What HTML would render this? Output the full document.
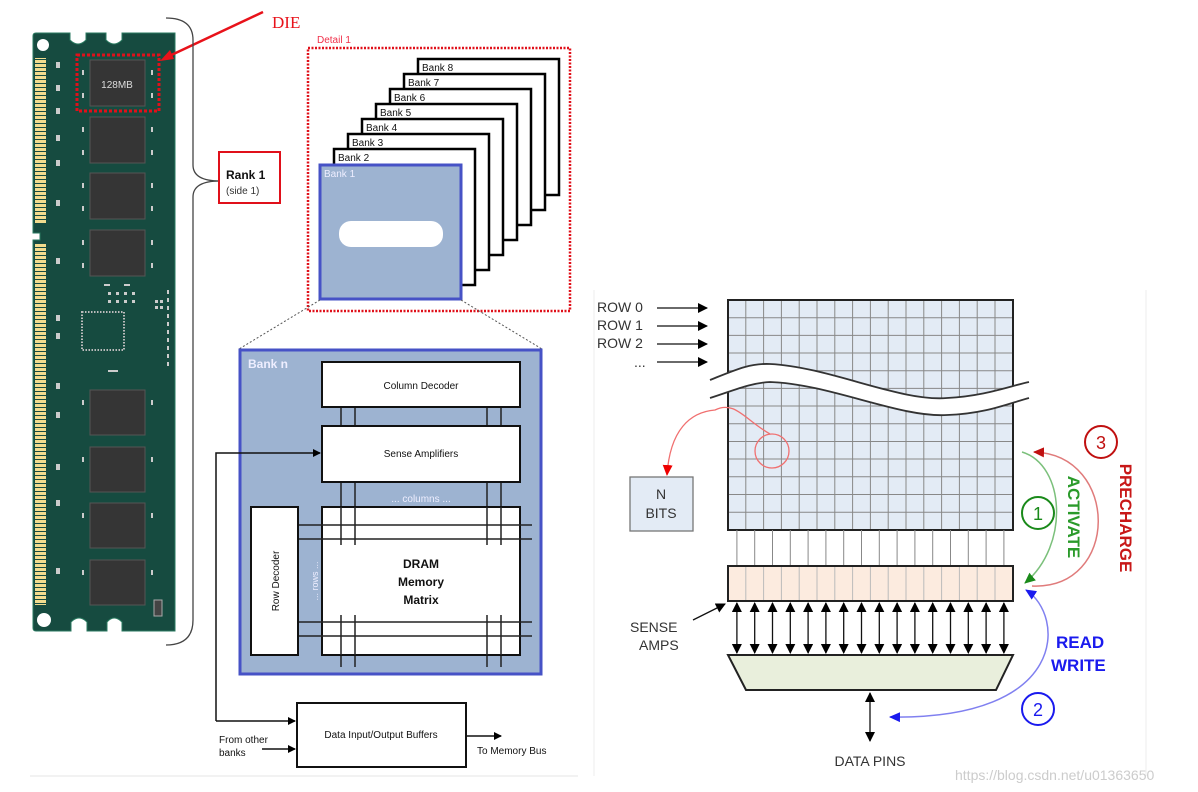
<!DOCTYPE html>
<html><head><meta charset="utf-8"><style>
html,body{margin:0;padding:0;background:#fff;}
svg{display:block;font-family:"Liberation Sans",sans-serif;}
</style></head><body>
<svg width="1198" height="792" viewBox="0 0 1198 792" xmlns="http://www.w3.org/2000/svg">
<defs>
<marker id="ab" markerWidth="8" markerHeight="8" refX="7" refY="4" orient="auto" markerUnits="userSpaceOnUse"><path d="M0,0 L8,4 L0,8 z" fill="#000"/></marker>
<marker id="ab2" markerWidth="10" markerHeight="10" refX="9" refY="5" orient="auto-start-reverse" markerUnits="userSpaceOnUse"><path d="M0,0 L10,5 L0,10 z" fill="#000"/></marker>
<marker id="ar" markerWidth="12" markerHeight="12" refX="10" refY="6" orient="auto" markerUnits="userSpaceOnUse"><path d="M0,1 L11,6 L0,11 z" fill="#e00"/></marker>
<marker id="ag" markerWidth="12" markerHeight="12" refX="10" refY="6" orient="auto" markerUnits="userSpaceOnUse"><path d="M0,1 L11,6 L0,11 z" fill="#1a8a1a"/></marker>
<marker id="ard" markerWidth="12" markerHeight="12" refX="10" refY="6" orient="auto" markerUnits="userSpaceOnUse"><path d="M0,1 L11,6 L0,11 z" fill="#c01010"/></marker>
<marker id="abl" markerWidth="12" markerHeight="12" refX="10" refY="6" orient="auto-start-reverse" markerUnits="userSpaceOnUse"><path d="M0,1 L11,6 L0,11 z" fill="#1a1aee"/></marker>
<pattern id="gp" width="4" height="4" patternUnits="userSpaceOnUse"><rect width="4" height="3" fill="#f2dc8e"/></pattern>
</defs>

<line x1="30" y1="776" x2="578" y2="776" stroke="#e6e6e6"/>
<line x1="594" y1="290" x2="594" y2="776" stroke="#eee"/>
<line x1="1146" y1="290" x2="1146" y2="776" stroke="#eee"/>

<!-- DIMM module -->
<path d="M36,33 H70 V40 Q78,48 86,40 V33 H106 V40 Q114,48 122,40 V33 H175 V631 H122 V622 Q114,614 107,622 V631 H87 V622 Q79,614 71,622 V631 H36 Q33,631 33,628 V240 H40 V233 H33 V36 Q33,33 36,33 Z" fill="#164b40" stroke="#2a7a60"/>
<circle cx="43" cy="45" r="6" fill="#fff"/>
<circle cx="44" cy="620" r="7" fill="#fff"/>
<rect x="35" y="58" width="11" height="166" fill="url(#gp)"/>
<rect x="35" y="243" width="11" height="362" fill="url(#gp)"/>
<g fill="#353535" stroke="#555">
<rect x="90" y="60" width="55" height="46"/>
<rect x="90" y="117" width="55" height="46"/>
<rect x="90" y="173" width="55" height="46"/>
<rect x="90" y="230" width="55" height="46"/>
<rect x="90" y="390" width="55" height="45"/>
<rect x="90" y="447" width="55" height="45"/>
<rect x="90" y="503" width="55" height="45"/>
<rect x="90" y="560" width="55" height="45"/>
</g>
<rect x="82" y="312" width="42" height="38" fill="none" stroke="#bbb" stroke-width="2" stroke-dasharray="1.5,1.5"/>
<rect x="154" y="600" width="8" height="16" fill="#444" stroke="#aaa"/>
<g fill="#ccc">
<rect x="56" y="62" width="4" height="6"/><rect x="56" y="85" width="4" height="6"/><rect x="56" y="108" width="4" height="6"/><rect x="56" y="135" width="4" height="6"/><rect x="56" y="160" width="4" height="6"/><rect x="56" y="200" width="4" height="6"/><rect x="56" y="258" width="4" height="6"/><rect x="56" y="315" width="4" height="6"/><rect x="56" y="333" width="4" height="6"/><rect x="56" y="383" width="4" height="6"/><rect x="56" y="412" width="4" height="6"/><rect x="56" y="464" width="4" height="6"/><rect x="56" y="500" width="4" height="6"/><rect x="56" y="568" width="4" height="6"/>
<rect x="82" y="70" width="2" height="5"/><rect x="151" y="70" width="2" height="5"/><rect x="82" y="93" width="2" height="5"/><rect x="151" y="93" width="2" height="5"/>
<rect x="82" y="127" width="2" height="5"/><rect x="151" y="127" width="2" height="5"/><rect x="82" y="150" width="2" height="5"/><rect x="151" y="150" width="2" height="5"/>
<rect x="82" y="183" width="2" height="5"/><rect x="151" y="183" width="2" height="5"/><rect x="82" y="206" width="2" height="5"/><rect x="151" y="206" width="2" height="5"/>
<rect x="82" y="240" width="2" height="5"/><rect x="151" y="240" width="2" height="5"/><rect x="82" y="263" width="2" height="5"/><rect x="151" y="263" width="2" height="5"/>
<rect x="82" y="400" width="2" height="5"/><rect x="151" y="400" width="2" height="5"/><rect x="82" y="457" width="2" height="5"/><rect x="151" y="457" width="2" height="5"/>
<rect x="82" y="513" width="2" height="5"/><rect x="151" y="513" width="2" height="5"/><rect x="82" y="570" width="2" height="5"/><rect x="151" y="570" width="2" height="5"/>
<rect x="104" y="284" width="6" height="2"/><rect x="124" y="284" width="6" height="2"/><rect x="108" y="292" width="3" height="3"/><rect x="116" y="292" width="3" height="3"/><rect x="124" y="292" width="3" height="3"/><rect x="132" y="292" width="3" height="3"/><rect x="108" y="300" width="3" height="3"/><rect x="116" y="300" width="3" height="3"/><rect x="124" y="300" width="3" height="3"/><rect x="132" y="300" width="3" height="3"/>
<rect x="155" y="300" width="3" height="3"/><rect x="160" y="300" width="3" height="3"/><rect x="155" y="306" width="3" height="3"/><rect x="160" y="306" width="3" height="3"/><rect x="167" y="290" width="2" height="4"/><rect x="167" y="298" width="2" height="4"/><rect x="167" y="306" width="2" height="4"/><rect x="167" y="314" width="2" height="4"/><rect x="167" y="322" width="2" height="4"/><rect x="167" y="330" width="2" height="4"/><rect x="167" y="338" width="2" height="4"/><rect x="167" y="346" width="2" height="4"/><rect x="167" y="354" width="2" height="4"/><rect x="167" y="362" width="2" height="4"/>
<rect x="108" y="370" width="10" height="2"/>
</g>
<rect x="77" y="55" width="82" height="56" fill="none" stroke="#e0101a" stroke-width="3" stroke-dasharray="3,2"/>
<text x="117" y="88" font-size="10" fill="#ddd" text-anchor="middle">128MB</text>

<line x1="263" y1="12" x2="165" y2="58" stroke="#e8121a" stroke-width="2.5"/>
<path d="M160,61 L170,50 L174,59 Z" fill="#e8121a"/>
<text x="272" y="28" font-family="Liberation Serif, serif" font-size="17" fill="#e8121a">DIE</text>

<path d="M166,18 Q193,18 193,40 V165 Q193,181 220,181 M220,181 Q193,181 193,197 V620 Q193,645 166,645" fill="none" stroke="#444" stroke-width="1.3"/>
<rect x="219" y="152" width="61" height="51" fill="#fff" stroke="#e0101a" stroke-width="2"/>
<text x="226" y="179" font-size="12" font-weight="bold" fill="#111">Rank 1</text>
<text x="226" y="194" font-size="10" fill="#333">(side 1)</text>

<text x="317" y="43" font-size="10" fill="#f0304a">Detail 1</text>
<rect x="308" y="48" width="262" height="263" fill="none" stroke="#e0101a" stroke-width="2.5" stroke-dasharray="2,1.5"/>
<g stroke="#000" stroke-width="2.5" fill="#fff">
<rect x="418" y="59" width="141" height="136"/>
<rect x="404" y="74" width="141" height="136"/>
<rect x="390" y="89" width="141" height="136"/>
<rect x="376" y="104" width="141" height="136"/>
<rect x="362" y="119" width="141" height="136"/>
<rect x="348" y="134" width="141" height="136"/>
<rect x="334" y="149" width="141" height="136"/>
</g>
<g font-size="10" fill="#111">
<text x="422" y="71">Bank 8</text><text x="408" y="86">Bank 7</text><text x="394" y="101">Bank 6</text><text x="380" y="116">Bank 5</text><text x="366" y="131">Bank 4</text><text x="352" y="146">Bank 3</text><text x="338" y="161">Bank 2</text>
</g>
<rect x="320" y="165" width="141" height="134" fill="#9db3d1" stroke="#4652c6" stroke-width="3"/>
<text x="324" y="177" font-size="10" fill="#eef">Bank 1</text>
<rect x="339" y="221" width="104" height="26" rx="12" fill="#fff"/>

<line x1="320" y1="300" x2="239" y2="349" stroke="#555" stroke-dasharray="2,2"/>
<line x1="461" y1="300" x2="542" y2="349" stroke="#555" stroke-dasharray="2,2"/>

<rect x="240" y="350" width="301" height="324" fill="#9db3d1" stroke="#4652c6" stroke-width="3"/>
<text x="248" y="368" font-size="12" font-weight="bold" fill="#eef">Bank n</text>
<g stroke="#222" stroke-width="1.5">
<line x1="341" y1="407" x2="341" y2="667"/><line x1="355" y1="407" x2="355" y2="667"/>
<line x1="487" y1="407" x2="487" y2="667"/><line x1="501" y1="407" x2="501" y2="667"/>
</g>
<rect x="322" y="362" width="198" height="45" fill="#fff" stroke="#111" stroke-width="2"/>
<text x="421" y="389" font-size="10" text-anchor="middle" fill="#111">Column Decoder</text>
<rect x="322" y="426" width="198" height="56" fill="#fff" stroke="#111" stroke-width="2"/>
<text x="421" y="457" font-size="10" text-anchor="middle" fill="#111">Sense Amplifiers</text>
<text x="421" y="502" font-size="10" text-anchor="middle" fill="#eef">... columns ...</text>
<rect x="322" y="507" width="198" height="148" fill="#fff" stroke="#111" stroke-width="2"/>
<g stroke="#222" stroke-width="1.5">
<line x1="341" y1="507" x2="341" y2="655"/><line x1="355" y1="507" x2="355" y2="655"/>
<line x1="487" y1="507" x2="487" y2="655"/><line x1="501" y1="507" x2="501" y2="655"/>
<line x1="298" y1="525" x2="532" y2="525"/><line x1="298" y1="539" x2="532" y2="539"/>
<line x1="298" y1="622" x2="532" y2="622"/><line x1="298" y1="636" x2="532" y2="636"/>
</g>
<rect x="340" y="545" width="162" height="70" fill="#fff"/>
<text x="421" y="568" font-size="12" font-weight="bold" text-anchor="middle" fill="#111">DRAM</text>
<text x="421" y="586" font-size="12" font-weight="bold" text-anchor="middle" fill="#111">Memory</text>
<text x="421" y="604" font-size="12" font-weight="bold" text-anchor="middle" fill="#111">Matrix</text>
<rect x="251" y="507" width="47" height="148" fill="#fff" stroke="#111" stroke-width="2"/>
<text transform="translate(279,581) rotate(-90)" font-size="10" text-anchor="middle" fill="#111">Row Decoder</text>
<text transform="translate(318,581) rotate(-90)" font-size="9" text-anchor="middle" fill="#eef">... rows ...</text>

<polyline points="216,721 216,453 320,453" fill="none" stroke="#111" stroke-width="1.5" marker-end="url(#ab)"/>
<line x1="216" y1="721" x2="295" y2="721" stroke="#111" stroke-width="1.5" marker-end="url(#ab)"/>
<line x1="262" y1="749" x2="295" y2="749" stroke="#111" stroke-width="1.5" marker-end="url(#ab)"/>
<line x1="466" y1="736" x2="501" y2="736" stroke="#111" stroke-width="1.5" marker-end="url(#ab)"/>
<rect x="297" y="703" width="169" height="64" fill="#fff" stroke="#111" stroke-width="2"/>
<text x="381" y="738" font-size="10" text-anchor="middle" fill="#111">Data Input/Output Buffers</text>
<text x="219" y="743" font-size="10" fill="#111">From other</text>
<text x="219" y="756" font-size="10" fill="#111">banks</text>
<text x="477" y="754" font-size="10" fill="#111">To Memory Bus</text>

<!-- RIGHT DIAGRAM -->
<g font-size="14" fill="#333">
<text x="597" y="312">ROW 0</text><text x="597" y="330">ROW 1</text><text x="597" y="348">ROW 2</text><text x="634" y="367">...</text>
</g>
<g stroke="#111" stroke-width="1.3">
<line x1="657" y1="308" x2="707" y2="308" marker-end="url(#ab2)"/>
<line x1="657" y1="326" x2="707" y2="326" marker-end="url(#ab2)"/>
<line x1="657" y1="344" x2="707" y2="344" marker-end="url(#ab2)"/>
<line x1="657" y1="362" x2="707" y2="362" marker-end="url(#ab2)"/>
</g>
<rect x="728" y="300" width="285" height="230" fill="#e3ebf5"/>
<g stroke="#888" stroke-width="1">
<line x1="745.8" y1="300" x2="745.8" y2="530"/><line x1="763.6" y1="300" x2="763.6" y2="530"/><line x1="781.4" y1="300" x2="781.4" y2="530"/><line x1="799.2" y1="300" x2="799.2" y2="530"/><line x1="817" y1="300" x2="817" y2="530"/><line x1="834.8" y1="300" x2="834.8" y2="530"/><line x1="852.6" y1="300" x2="852.6" y2="530"/><line x1="870.4" y1="300" x2="870.4" y2="530"/><line x1="888.2" y1="300" x2="888.2" y2="530"/><line x1="906" y1="300" x2="906" y2="530"/><line x1="923.8" y1="300" x2="923.8" y2="530"/><line x1="941.6" y1="300" x2="941.6" y2="530"/><line x1="959.4" y1="300" x2="959.4" y2="530"/><line x1="977.2" y1="300" x2="977.2" y2="530"/><line x1="995" y1="300" x2="995" y2="530"/>
<line x1="728" y1="317.7" x2="1013" y2="317.7"/><line x1="728" y1="335.4" x2="1013" y2="335.4"/><line x1="728" y1="353" x2="1013" y2="353"/><line x1="728" y1="370.7" x2="1013" y2="370.7"/><line x1="728" y1="388.4" x2="1013" y2="388.4"/><line x1="728" y1="406" x2="1013" y2="406"/><line x1="728" y1="423.8" x2="1013" y2="423.8"/><line x1="728" y1="441.5" x2="1013" y2="441.5"/><line x1="728" y1="459" x2="1013" y2="459"/><line x1="728" y1="476.8" x2="1013" y2="476.8"/><line x1="728" y1="494.5" x2="1013" y2="494.5"/><line x1="728" y1="512.2" x2="1013" y2="512.2"/>
</g>
<rect x="728" y="300" width="285" height="230" fill="none" stroke="#222" stroke-width="2"/>
<path d="M710,380 C735,370 750,363 770,364 C830,367 900,402 947,398 C985,396 1010,386 1029,382 L1029,398 C1010,403 985,414 947,415 C900,418 830,384 770,382 C750,383 735,390 710,398 Z" fill="#fff"/>
<path d="M710,380 C735,370 750,363 770,364 C830,367 900,402 947,398 C985,396 1010,386 1029,382" fill="none" stroke="#333" stroke-width="1.8"/>
<path d="M710,398 C735,390 750,383 770,382 C830,384 900,418 947,415 C985,414 1010,403 1029,398" fill="none" stroke="#333" stroke-width="1.8"/>

<g stroke="#888" stroke-width="1">
<line x1="736.9" y1="530" x2="736.9" y2="566"/><line x1="754.7" y1="530" x2="754.7" y2="566"/><line x1="772.5" y1="530" x2="772.5" y2="566"/><line x1="790.3" y1="530" x2="790.3" y2="566"/><line x1="808.1" y1="530" x2="808.1" y2="566"/><line x1="825.9" y1="530" x2="825.9" y2="566"/><line x1="843.7" y1="530" x2="843.7" y2="566"/><line x1="861.5" y1="530" x2="861.5" y2="566"/><line x1="879.3" y1="530" x2="879.3" y2="566"/><line x1="897.1" y1="530" x2="897.1" y2="566"/><line x1="914.9" y1="530" x2="914.9" y2="566"/><line x1="932.7" y1="530" x2="932.7" y2="566"/><line x1="950.5" y1="530" x2="950.5" y2="566"/><line x1="968.3" y1="530" x2="968.3" y2="566"/><line x1="986.1" y1="530" x2="986.1" y2="566"/><line x1="1003.9" y1="530" x2="1003.9" y2="566"/>
</g>
<rect x="728" y="566" width="285" height="35" fill="#fcebdf"/>
<g stroke="#bbb" stroke-width="1">
<line x1="745.8" y1="566" x2="745.8" y2="601"/><line x1="763.6" y1="566" x2="763.6" y2="601"/><line x1="781.4" y1="566" x2="781.4" y2="601"/><line x1="799.2" y1="566" x2="799.2" y2="601"/><line x1="817" y1="566" x2="817" y2="601"/><line x1="834.8" y1="566" x2="834.8" y2="601"/><line x1="852.6" y1="566" x2="852.6" y2="601"/><line x1="870.4" y1="566" x2="870.4" y2="601"/><line x1="888.2" y1="566" x2="888.2" y2="601"/><line x1="906" y1="566" x2="906" y2="601"/><line x1="923.8" y1="566" x2="923.8" y2="601"/><line x1="941.6" y1="566" x2="941.6" y2="601"/><line x1="959.4" y1="566" x2="959.4" y2="601"/><line x1="977.2" y1="566" x2="977.2" y2="601"/><line x1="995" y1="566" x2="995" y2="601"/>
</g>
<rect x="728" y="566" width="285" height="35" fill="none" stroke="#222" stroke-width="2"/>
<g stroke="#111" stroke-width="1.3">
<line x1="736.9" y1="603" x2="736.9" y2="653" marker-start="url(#ab2)" marker-end="url(#ab2)"/><line x1="754.7" y1="603" x2="754.7" y2="653" marker-start="url(#ab2)" marker-end="url(#ab2)"/><line x1="772.5" y1="603" x2="772.5" y2="653" marker-start="url(#ab2)" marker-end="url(#ab2)"/><line x1="790.3" y1="603" x2="790.3" y2="653" marker-start="url(#ab2)" marker-end="url(#ab2)"/><line x1="808.1" y1="603" x2="808.1" y2="653" marker-start="url(#ab2)" marker-end="url(#ab2)"/><line x1="825.9" y1="603" x2="825.9" y2="653" marker-start="url(#ab2)" marker-end="url(#ab2)"/><line x1="843.7" y1="603" x2="843.7" y2="653" marker-start="url(#ab2)" marker-end="url(#ab2)"/><line x1="861.5" y1="603" x2="861.5" y2="653" marker-start="url(#ab2)" marker-end="url(#ab2)"/><line x1="879.3" y1="603" x2="879.3" y2="653" marker-start="url(#ab2)" marker-end="url(#ab2)"/><line x1="897.1" y1="603" x2="897.1" y2="653" marker-start="url(#ab2)" marker-end="url(#ab2)"/><line x1="914.9" y1="603" x2="914.9" y2="653" marker-start="url(#ab2)" marker-end="url(#ab2)"/><line x1="932.7" y1="603" x2="932.7" y2="653" marker-start="url(#ab2)" marker-end="url(#ab2)"/><line x1="950.5" y1="603" x2="950.5" y2="653" marker-start="url(#ab2)" marker-end="url(#ab2)"/><line x1="968.3" y1="603" x2="968.3" y2="653" marker-start="url(#ab2)" marker-end="url(#ab2)"/><line x1="986.1" y1="603" x2="986.1" y2="653" marker-start="url(#ab2)" marker-end="url(#ab2)"/><line x1="1003.9" y1="603" x2="1003.9" y2="653" marker-start="url(#ab2)" marker-end="url(#ab2)"/>
<line x1="870" y1="693" x2="870" y2="741" marker-start="url(#ab2)" marker-end="url(#ab2)"/>
<line x1="693" y1="620" x2="725" y2="604" marker-end="url(#ab2)"/>
</g>
<path d="M728,655 L1013,655 L996,690 L746,690 Z" fill="#e9efdc" stroke="#222" stroke-width="2"/>
<text x="870" y="766" font-size="14" fill="#333" text-anchor="middle">DATA PINS</text>
<text x="630" y="632" font-size="14" fill="#333">SENSE</text>
<text x="639" y="650" font-size="14" fill="#333">AMPS</text>

<rect x="630" y="477" width="63" height="54" fill="#e3ebf5" stroke="#777" stroke-width="1.3"/>
<text x="661" y="499" font-size="14" fill="#333" text-anchor="middle">N</text>
<text x="661" y="518" font-size="14" fill="#333" text-anchor="middle">BITS</text>
<circle cx="772" cy="451" r="17" fill="none" stroke="#f07070" stroke-width="1.3"/>
<path d="M770,434 C745,420 735,400 715,410 C690,412 670,430 667,475" fill="none" stroke="#f07070" stroke-width="1.3" marker-end="url(#ar)"/>

<path d="M1022,452 C1065,465 1070,545 1025,583" fill="none" stroke="#7bc07b" stroke-width="1.5" marker-end="url(#ag)"/>
<path d="M1032,586 C1120,590 1120,455 1034,452" fill="none" stroke="#e07b7b" stroke-width="1.5" marker-end="url(#ard)"/>
<path d="M1026,590 C1065,615 1070,720 890,717" fill="none" stroke="#8080f0" stroke-width="1.5" marker-start="url(#abl)" marker-end="url(#abl)"/>
<circle cx="1038" cy="513" r="16" fill="#fff" stroke="#1a8a1a" stroke-width="2"/>
<text x="1038" y="520" font-size="18" text-anchor="middle" fill="#1a8a1a">1</text>
<circle cx="1101" cy="442" r="16" fill="#fff" stroke="#c01010" stroke-width="2"/>
<text x="1101" y="449" font-size="18" text-anchor="middle" fill="#c01010">3</text>
<circle cx="1038" cy="709" r="16" fill="#fff" stroke="#1a1aee" stroke-width="2"/>
<text x="1038" y="716" font-size="18" text-anchor="middle" fill="#1a1aee">2</text>
<text transform="translate(1068,517) rotate(90)" font-size="17" font-weight="bold" text-anchor="middle" fill="#2a9a2a">ACTIVATE</text>
<text transform="translate(1120,518) rotate(90)" font-size="17" font-weight="bold" text-anchor="middle" fill="#c81818">PRECHARGE</text>
<text x="1056" y="648" font-size="17" font-weight="bold" fill="#1a1aee">READ</text>
<text x="1051" y="671" font-size="17" font-weight="bold" fill="#1a1aee">WRITE</text>

<text x="955" y="780" font-size="14" fill="#ccc">https://blog.csdn.net/u01363650</text>
</svg>
</body></html>
